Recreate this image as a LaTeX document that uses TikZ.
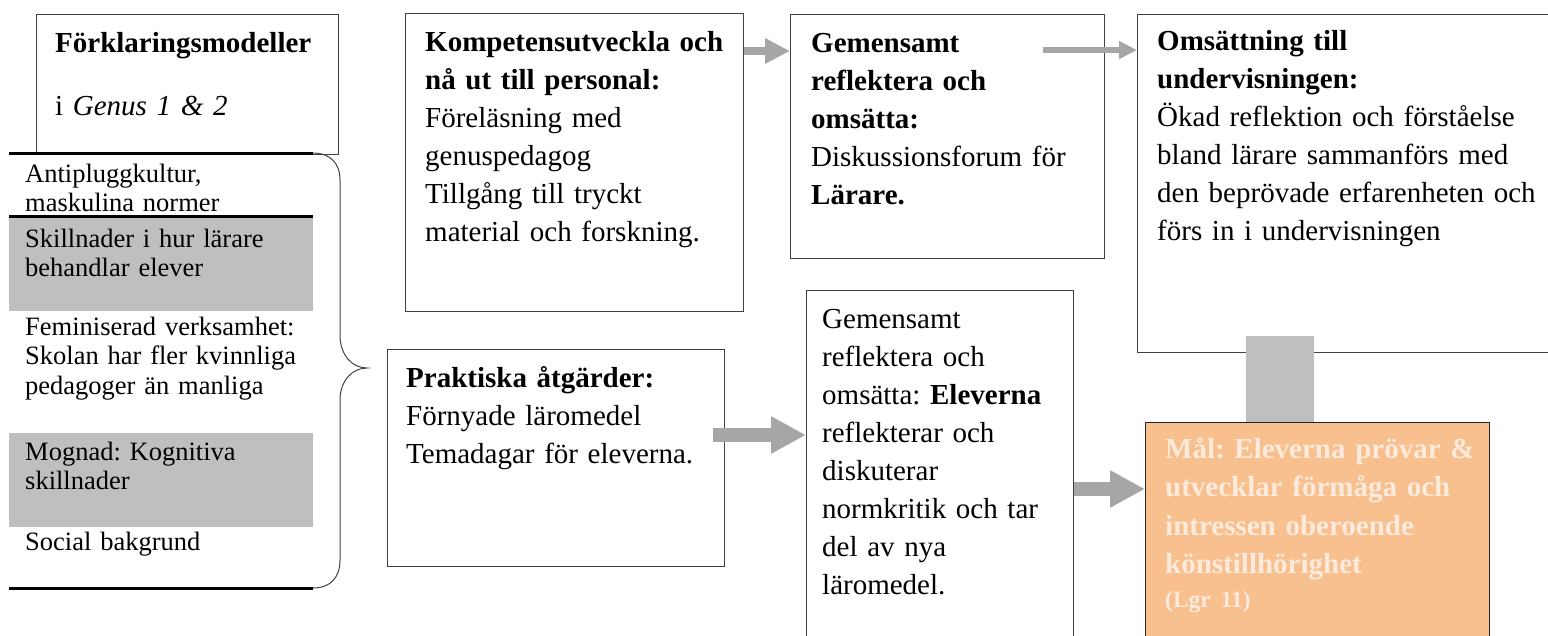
\documentclass[tikz,border=0pt]{standalone}
\usepackage{fontspec}
\setmainfont{Liberation Serif}
\usetikzlibrary{positioning,arrows.meta}
\frenchspacing

\definecolor{listgray}{HTML}{BFBFBF}
\definecolor{arrgray}{HTML}{A6A6A6}
\definecolor{frameline}{HTML}{404040}
\definecolor{malfill}{HTML}{F8C08F}
\definecolor{maltext}{HTML}{FCEBDD}

\newcommand{\boxfont}{\fontsize{29}{38}\selectfont}
\newcommand{\listfont}{\fontsize{26.5}{29.5}\selectfont}
\newcommand{\malfont}{\fontsize{29}{38.5}\selectfont\bfseries}

\begin{document}
\begin{tikzpicture}[x=1pt,y=-1pt,
  frame/.style={draw=frameline,line width=1.3pt,anchor=north west,inner sep=0pt},
  txt/.style={anchor=base west,inner sep=0pt,text width=400pt,align=left,font=\boxfont},
  item/.style={anchor=base west,inner sep=0pt,text width=300pt,align=left,font=\listfont},
  fatarrow/.style={draw=arrgray,line width=14pt,-{Triangle[length=35pt,width=35pt]}}]
\useasboundingbox (0,0) rectangle (1548,635);
\clip (0,0) rectangle (1548,635);

% left column: explanation models
\node[frame,minimum width=302pt,minimum height=140pt] (forkl) at (36,14) {};
\node[txt] (forklT) at (55,52) {\textbf{Förklaringsmodeller}\\[25pt]i \textit{Genus 1 \& 2}};
\fill[listgray] (9,217) rectangle (313,311);
\fill[listgray] (9,433) rectangle (313,527);
\draw[line width=3pt] (9,153) -- (313,153);
\draw[line width=3pt] (9,216) -- (313,216);
\draw[line width=3pt] (9,588) -- (313,588);
\node[item] (anti) at (25,182) {Antipluggkultur,\\maskulina normer};
\node[item] (skill) at (25,247) {Skillnader i hur lärare\\behandlar elever};
\node[item] (femi) at (25,335) {Feminiserad verksamhet:\\Skolan har fler kvinnliga\\pedagoger än manliga};
\node[item] (mogn) at (25,460) {Mognad: Kognitiva\\skillnader};
\node[item] (soc) at (25,550) {Social bakgrund};
% brace
\draw[frameline,line width=1pt] (313,153) .. controls (330,153) and (340,163) .. (340,180)
  -- (340,335) .. controls (340,355) and (352,368) .. (367,368)
  .. controls (352,368) and (340,381) .. (340,400)
  -- (340,560) .. controls (340,578) and (330,588) .. (313,588);

% top row
\node[frame,minimum width=338pt,minimum height=298pt] (komp) at (405,13) {};
\node[txt] (kompT) at (425,51) {\textbf{Kompetensutveckla och}\\\textbf{nå ut till personal:}\\Föreläsning med\\genuspedagog\\Tillgång till tryckt\\material och forskning.};
\node[frame,minimum width=314pt,minimum height=244pt] (gemA) at (790,14) {};
\node[txt] (gemAT) at (811,52) {\textbf{Gemensamt}\\\textbf{reflektera och}\\\textbf{omsätta:}\\Diskussionsforum för\\\textbf{Lärare.}};
\node[frame,minimum width=430pt,minimum height=338pt] (oms) at (1137,14) {};
\node[txt] (omsT) at (1157,50) {\textbf{Omsättning till}\\\textbf{undervisningen:}\\Ökad reflektion och förståelse\\bland lärare sammanförs med\\den beprövade erfarenheten och\\förs in i undervisningen};

% bottom row
\node[frame,minimum width=337pt,minimum height=217pt] (prak) at (387,349) {};
\node[txt] (prakT) at (406,387) {\textbf{Praktiska åtgärder:}\\Förnyade läromedel\\Temadagar för eleverna.};
\node[frame,minimum width=267pt,minimum height=360pt] (gemB) at (806,290) {};
\node[txt] (gemBT) at (822,328) {Gemensamt\\reflektera och\\omsätta: \textbf{Eleverna}\\reflekterar och\\diskuterar\\normkritik och tar\\del av nya\\läromedel.};
\fill[listgray] ([xshift=109pt,yshift=17pt]oms.south west) rectangle ([xshift=177pt,yshift=-70pt]oms.south west);
\node[frame,draw=black!85,fill=malfill,minimum width=344pt,minimum height=230pt] (mal) at (1145,422) {};
\node[txt,text=maltext,font=\malfont] (malT) at (1165,458) {Mål: Eleverna prövar \&\\utvecklar förmåga och\\intressen oberoende\\könstillhörighet\par\noindent{\fontsize{23.5}{34}\selectfont (Lgr 11)\par}};

% arrows
\draw[arrgray,line width=8pt,-{Triangle[length=25pt,width=24pt]}] ([yshift=-38pt]komp.north east) -- ([yshift=-37pt]gemA.north west);
\draw[arrgray,line width=6pt,-{Triangle[length=18pt,width=17pt]}] ([xshift=-62pt,yshift=-36pt]gemA.north east) -- ([yshift=-36pt]oms.north west);
\draw[fatarrow] ([xshift=-12pt,yshift=-86pt]prak.north east) -- ([yshift=-145pt]gemB.north west);
\draw[fatarrow] ([yshift=-199pt]gemB.north east) -- ([yshift=-67pt]mal.north west);
\end{tikzpicture}
\end{document}
